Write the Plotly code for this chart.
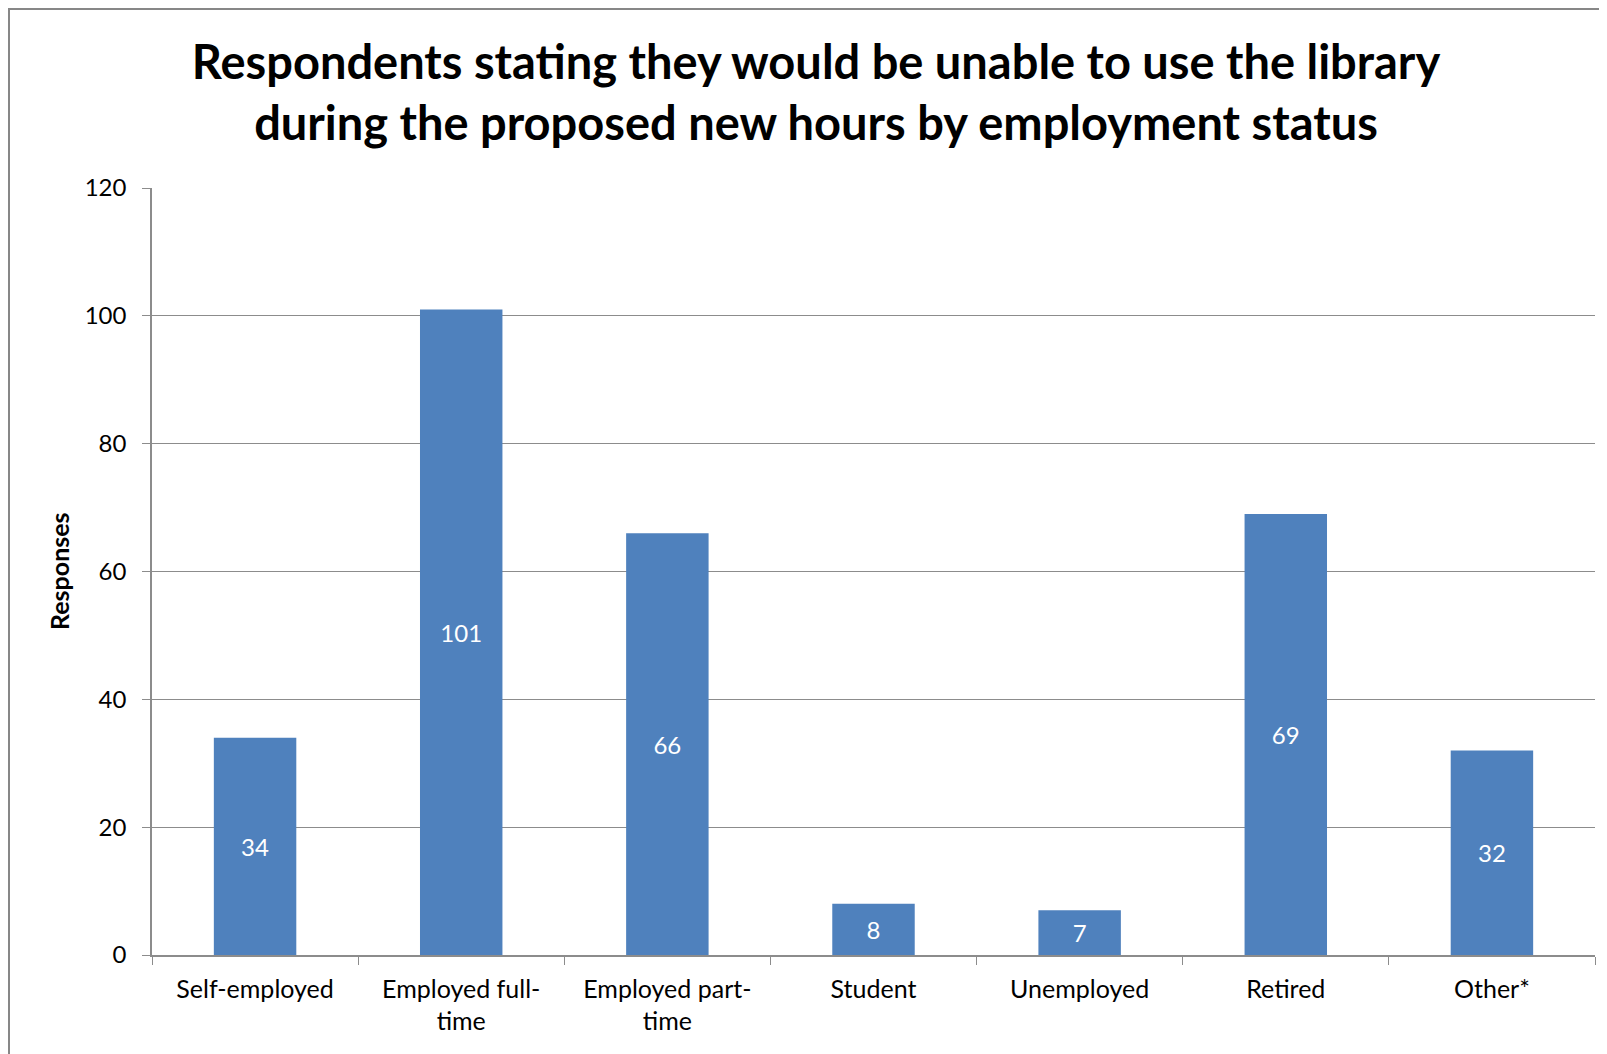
import plotly.graph_objects as go

categories = ["Self-employed", "Employed full-<br>time", "Employed part-<br>time", "Student", "Unemployed", "Retired", "Other*"]
values = [34, 101, 66, 8, 7, 69, 32]
y_ticks = [0, 20, 40, 60, 80, 100, 120]

# page has an 8px body margin; figure coordinates = page coordinates - 8
W, H = 1607, 1054
L, R, T, B = 144, 20, 180, 107
pw, ph = W - L - R, H - T - B

FONT = "Lato"
GRID = "#8c8c8c"

fig = go.Figure(go.Bar(
    x=categories, y=values, width=0.4,
    marker=dict(color="#4F81BD", line=dict(width=0)),
    text=[str(v) for v in values], textposition="inside", insidetextanchor="middle",
    textfont=dict(color="white", size=24, family=FONT),
    textangle=0,
))

fig.update_layout(
    width=W, height=H,
    margin=dict(l=L, r=R, t=T, b=B),
    paper_bgcolor="white", plot_bgcolor="white",
    showlegend=False,
    bargap=0.6,
    title=dict(
        text="<b>Respondents stating they would be unable to use the library<br>during the proposed new hours by employment status</b>",
        x=808 / W, xref="container", xanchor="center",
        y=1 - 71 / H, yref="container", yanchor="middle",
        font=dict(family=FONT, size=47, color="black"),
    ),
    xaxis=dict(
        type="category", tickson="boundaries", ticks="outside", ticklen=8,
        tickcolor=GRID, showline=True, linecolor=GRID, linewidth=1.5,
        showgrid=False, tickfont=dict(family=FONT, size=25, color="black"),
        ticklabelstandoff=11, tickangle=0,
    ),
    yaxis=dict(
        range=[0, 120], tickvals=y_ticks, ticks="outside", ticklen=8,
        tickcolor=GRID, showline=True, linecolor=GRID, linewidth=1.5,
        showgrid=True, gridcolor=GRID, gridwidth=1.2, zeroline=False,
        tickfont=dict(family=FONT, size=24, color="black"),
        ticklabelstandoff=11,
    ),
    annotations=[dict(
        text="<b>Responses</b>", textangle=-90,
        xref="paper", yref="paper", x=(51 - L) / pw, y=(H - B - 563) / ph,
        xanchor="center", yanchor="middle", showarrow=False,
        font=dict(family=FONT, size=25, color="black"),
    )],
    shapes=[dict(
        type="rect", xref="paper", yref="paper",
        x0=(1 - L) / pw, x1=1.2, y0=-0.3, y1=(H - B - 1) / ph,
        line=dict(color="#878787", width=2), fillcolor="rgba(0,0,0,0)", layer="below",
    )],
)

fig.write_html("out.html")
